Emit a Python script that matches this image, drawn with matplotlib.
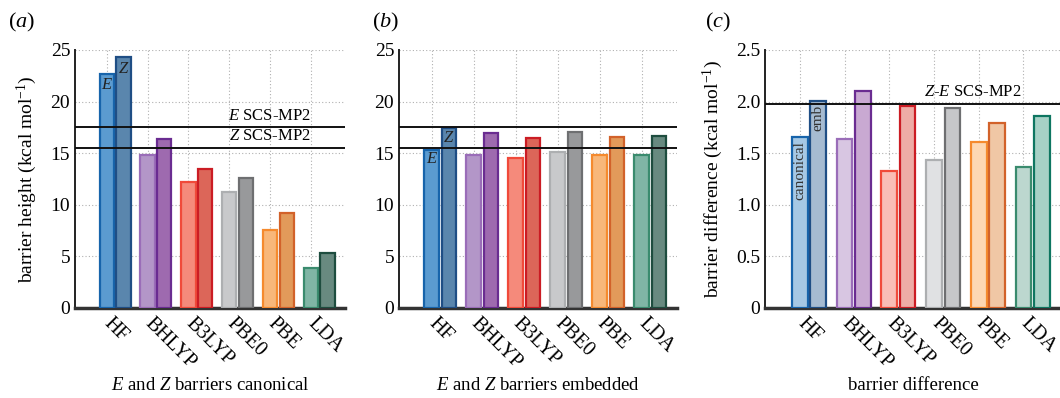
import numpy as np
import matplotlib
matplotlib.use("Agg")
import matplotlib.pyplot as plt
import matplotlib.transforms as mtrans

plt.rcParams['font.family'] = ['Liberation Serif', 'DejaVu Serif']
plt.rcParams['mathtext.fontset'] = 'custom'
plt.rcParams['mathtext.rm'] = 'Liberation Serif'
plt.rcParams['mathtext.it'] = 'Liberation Serif:italic'

methods = ['HF', 'BHLYP', 'B3LYP', 'PBE0', 'PBE', 'LDA']

# (a) canonical barriers
canon_E = [22.7, 14.8, 12.2, 11.2, 7.6, 3.9]
canon_Z = [24.3, 16.4, 13.5, 12.6, 9.2, 5.3]
# (b) embedded barriers
emb_E = [15.3, 14.8, 14.5, 15.1, 14.8, 14.8]
emb_Z = [17.4, 17.0, 16.5, 17.1, 16.6, 16.7]
# (c) Z-E barrier difference
diff_canon = [1.66, 1.64, 1.33, 1.43, 1.61, 1.37]
diff_emb = [2.01, 2.10, 1.96, 1.94, 1.79, 1.86]

scs_E = 17.5
scs_Z = 15.5
scs_diff = 1.98

# colours per method: light / dark fill, light / dark edge
fill_E = ['#5b9bd0', '#b396c8', '#f58a7b', '#c8c9cb', '#f8b77a', '#80b5a5']
fill_Z = ['#5a86ad', '#9e6aaf', '#dc6659', '#98999b', '#e29a5a', '#688a80']
edge_E = ['#1764ab', '#9a6db8', '#f04a3a', '#adafb1', '#f58a2e', '#3a8b6e']
edge_Z = ['#1f4e85', '#6a2c91', '#cb1c24', '#6e6f71', '#d2622a', '#1e4d3f']
fill_c1 = ['#a6c8e4', '#d8c6e2', '#f9bdb6', '#e0e1e3', '#fdd7b3', '#bcd7cf']
fill_c2 = ['#a6bbd1', '#c9a9d2', '#eeaca6', '#c6c7c9', '#f0c7a5', '#a7d1c6']
edge_c2 = ['#1f4e85', '#6a2c91', '#cb1c24', '#6e6f71', '#d2622a', '#0e7661']

x = np.arange(len(methods))
w = 0.35
off = 0.41

fig = plt.figure(figsize=(10.6, 3.98), dpi=100)
bot, top = 1 - 308 / 398, 1 - 50 / 398
ax_a = fig.add_axes([75 / 1060, bot, 270 / 1060, top - bot])
ax_b = fig.add_axes([399 / 1060, bot, 278 / 1060, top - bot])
ax_c = fig.add_axes([765 / 1060, bot, 296 / 1060, top - bot])


def style(ax, ymax, step):
    ax.set_xlim(-0.78, 5.84)
    ax.set_ylim(0, ymax)
    ax.set_yticks(np.arange(0, ymax + step / 2, step))
    ax.set_xticks(x)
    ax.set_xticklabels([])
    # rotated method names, drawn by hand so they can sit just right of each tick
    shift = mtrans.ScaledTranslation(7 / 100, -6 / 100, fig.dpi_scale_trans)
    for xi, name in zip(x, methods):
        ax.text(xi, 0, name, rotation=-45, ha='left', va='top', rotation_mode='anchor',
                fontsize=14.5, transform=ax.get_xaxis_transform() + shift)
    ax.tick_params(length=0, labelsize=14)
    ax.grid(True, linestyle=(0, (1, 2)), color='#b0b0b0', linewidth=0.8)
    ax.set_axisbelow(True)
    for s in ['top', 'right']:
        ax.spines[s].set_visible(False)
    ax.spines['left'].set_color('#222222')
    ax.spines['left'].set_linewidth(1.4)
    ax.spines['bottom'].set_color('#333333')
    ax.spines['bottom'].set_linewidth(2.5)


def pair(ax, e_vals, z_vals, fe, fz, ee, ez):
    ax.bar(x, e_vals, w, color=fe, edgecolor=ee, linewidth=1.6, zorder=3)
    ax.bar(x + off, z_vals, w, color=fz, edgecolor=ez, linewidth=1.6, zorder=3)


def xlab(ax, text):
    ax.set_xlabel(text, fontsize=13.5, va='center')
    ax.xaxis.set_label_coords(0.5, (308 - 385) / 258)


# (a)
pair(ax_a, canon_E, canon_Z, fill_E, fill_Z, edge_E, edge_Z)
style(ax_a, 25, 5)
ax_a.axhline(scs_E, color='#111111', linewidth=1.4, zorder=4)
ax_a.axhline(scs_Z, color='#111111', linewidth=1.4, zorder=4)
ax_a.text(5.0, scs_E + 0.35, '$E$ SCS-MP2', ha='right', va='bottom', fontsize=12)
ax_a.text(5.0, scs_Z + 0.35, '$Z$ SCS-MP2', ha='right', va='bottom', fontsize=12)
ax_a.text(x[0], canon_E[0] - 1.1, '$E$', ha='center', va='center', fontsize=12, color='#222222', zorder=5)
ax_a.text(x[0] + off, canon_Z[0] - 1.1, '$Z$', ha='center', va='center', fontsize=12, color='#222222', zorder=5)
ax_a.set_ylabel('barrier height (kcal mol$^{-1}$)', fontsize=14, labelpad=8)
xlab(ax_a, '$E$ and $Z$ barriers canonical')

# (b)
pair(ax_b, emb_E, emb_Z, fill_E, fill_Z, edge_E, edge_Z)
style(ax_b, 25, 5)
ax_b.axhline(scs_E, color='#111111', linewidth=1.4, zorder=4)
ax_b.axhline(scs_Z, color='#111111', linewidth=1.4, zorder=4)
ax_b.text(x[0], emb_E[0] - 0.9, '$E$', ha='center', va='center', fontsize=12, color='#222222', zorder=5)
ax_b.text(x[0] + off, emb_Z[0] - 0.9, '$Z$', ha='center', va='center', fontsize=12, color='#222222', zorder=5)
xlab(ax_b, '$E$ and $Z$ barriers embedded')

# (c)
pair(ax_c, diff_canon, diff_emb, fill_c1, fill_c2, edge_E, edge_c2)
style(ax_c, 2.5, 0.5)
ax_c.set_yticklabels(['0', '0.5', '1.0', '1.5', '2.0', '2.5'])
ax_c.axhline(scs_diff, color='#111111', linewidth=1.4, zorder=4)
ax_c.text(4.95, scs_diff + 0.035, '$Z$-$E$ SCS-MP2', ha='right', va='bottom', fontsize=12)
ax_c.text(x[0], diff_canon[0] - 0.04, 'canonical', rotation=90, ha='center', va='top',
          fontsize=11, color='#333333', zorder=5)
ax_c.text(x[0] + off, diff_emb[0] - 0.04, 'emb', rotation=90, ha='center', va='top',
          fontsize=11, color='#333333', zorder=5)
ax_c.set_ylabel('barrier difference (kcal mol$^{-1}$)', fontsize=14, labelpad=8)
xlab(ax_c, 'barrier difference')

fig.text(8 / 1060, 1 - 22 / 398, '($a$)', fontsize=16, va='center')
fig.text(372 / 1060, 1 - 22 / 398, '($b$)', fontsize=16, va='center')
fig.text(705 / 1060, 1 - 22 / 398, '($c$)', fontsize=16, va='center')

fig.savefig('out.png', dpi=100)
